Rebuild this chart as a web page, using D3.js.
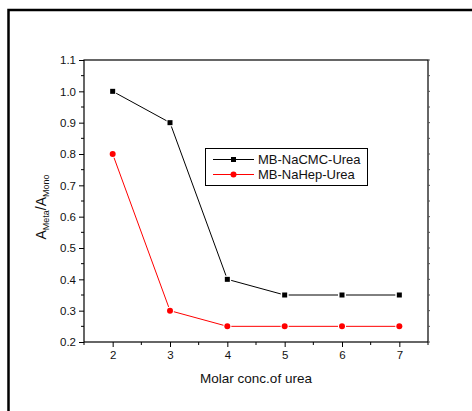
<!DOCTYPE html>
<meta charset='utf-8'>
<style>
	body { margin: 0; background: #fff; }
	text { font-family: 'Liberation Sans', Arial, sans-serif; fill: #111; }
	.axis path, .axis line { stroke: #000; }
</style>
<body>
<script src='https://cdn.jsdelivr.net/npm/d3@7'></script>
<script>
	var urea = [2, 3, 4, 5, 6, 7];
	var naCMC = [1.0, 0.9, 0.4, 0.35, 0.35, 0.35];
	var naHep = [0.8, 0.3, 0.25, 0.25, 0.25, 0.25];
	var seriesNames = ['MB-NaCMC-Urea', 'MB-NaHep-Urea'];
	var yTicks = [0.2, 0.3, 0.4, 0.5, 0.6, 0.7, 0.8, 0.9, 1.0, 1.1];

	var W = 472, H = 411;
	var m = {l: 84, r: 428, t: 60, b: 342};

	var svg = d3.select('body').append('svg').attr('width', W).attr('height', H);

	// outer frame
	svg.append('rect').attr('x', 8.5).attr('y', 10).attr('width', 480).attr('height', 420)
		.attr('fill', 'none').attr('stroke', '#000').attr('stroke-width', 2.5);

	var x = d3.scaleLinear().domain([1.5, 7.5]).range([m.l, m.r]);
	var y = d3.scaleLinear().domain([0.2, 1.1]).range([m.b, m.t]);

	var minorY = d3.range(0.25, 1.1, 0.1);
	var minorX = d3.range(1.5, 7.6, 1);

	// frame of plot
	svg.append('rect').attr('x', m.l).attr('y', m.t).attr('width', m.r - m.l).attr('height', m.b - m.t)
		.attr('fill', 'none').attr('stroke', '#000').attr('stroke-width', 1.2);

	// left axis
	var gy = svg.append('g').attr('class', 'axis').attr('transform', 'translate(' + m.l + ',0)')
		.call(d3.axisLeft(y).tickValues(yTicks).tickFormat(d3.format('.1f')).tickSize(5).tickPadding(3));
	gy.select('.domain').remove();
	gy.selectAll('text').attr('font-size', 11.5);
	svg.append('g').selectAll('line').data(minorY).enter().append('line')
		.attr('x1', m.l - 3).attr('x2', m.l).attr('y1', function (d) { return y(d); }).attr('y2', function (d) { return y(d); })
		.attr('stroke', '#000');

	// bottom axis
	var gx = svg.append('g').attr('class', 'axis').attr('transform', 'translate(0,' + m.b + ')')
		.call(d3.axisBottom(x).tickValues(urea).tickFormat(d3.format('d')).tickSize(5).tickPadding(4));
	gx.select('.domain').remove();
	gx.selectAll('text').attr('font-size', 11.5);
	svg.append('g').selectAll('line').data(minorX).enter().append('line')
		.attr('y1', m.b).attr('y2', m.b + 3).attr('x1', function (d) { return x(d); }).attr('x2', function (d) { return x(d); })
		.attr('stroke', '#000');

	// right axis small ticks
	svg.append('g').selectAll('line').data(yTicks.concat(minorY)).enter().append('line')
		.attr('x1', m.r).attr('x2', m.r + 2).attr('y1', function (d) { return y(d); }).attr('y2', function (d) { return y(d); })
		.attr('stroke', '#555');

	// labels
	svg.append('text').attr('x', 256).attr('y', 383).attr('text-anchor', 'middle').attr('font-size', 13.5)
		.text('Molar conc.of urea');
	var yl = svg.append('text').attr('transform', 'translate(46,207) rotate(-90)').attr('text-anchor', 'middle').attr('font-size', 14);
	yl.append('tspan').text('A');
	yl.append('tspan').attr('font-size', 9).attr('dy', 3).text('Meta');
	yl.append('tspan').attr('dy', -3).text('/A');
	yl.append('tspan').attr('font-size', 9).attr('dy', 3).text('Mono');

	// series lines with gaps near markers
	function drawSeries(vals, color, shape) {
		var pts = urea.map(function (u, i) { return [x(u), y(vals[i])]; });
		var gap = 4;
		for (var i = 0; i < pts.length - 1; i++) {
			var p = pts[i], q = pts[i + 1];
			var dx = q[0] - p[0], dy = q[1] - p[1], L = Math.sqrt(dx * dx + dy * dy);
			svg.append('line')
				.attr('x1', p[0] + dx / L * gap).attr('y1', p[1] + dy / L * gap)
				.attr('x2', q[0] - dx / L * gap).attr('y2', q[1] - dy / L * gap)
				.attr('stroke', color).attr('stroke-width', 1);
		}
		pts.forEach(function (p) { marker(p[0], p[1], color, shape); });
	}

	function marker(cx, cy, color, shape) {
		if (shape === 'square') {
			svg.append('rect').attr('x', cx - 2.5).attr('y', cy - 2.5).attr('width', 5).attr('height', 5).attr('fill', color);
		} else {
			svg.append('circle').attr('cx', cx).attr('cy', cy).attr('r', 3).attr('fill', color);
		}
	}

	drawSeries(naCMC, '#000', 'square');
	drawSeries(naHep, '#ff0000', 'circle');

	// legend
	svg.append('rect').attr('x', 205.5).attr('y', 148.5).attr('width', 162).attr('height', 37)
		.attr('fill', '#fff').attr('stroke', '#000').attr('stroke-width', 1);
	var legend = [{name: seriesNames[0], color: '#000', shape: 'square', y: 159.5},
		{name: seriesNames[1], color: '#ff0000', shape: 'circle', y: 174.5}];
	legend.forEach(function (d) {
		svg.append('line').attr('x1', 213).attr('x2', 254).attr('y1', d.y).attr('y2', d.y).attr('stroke', d.color);
		marker(233.5, d.y, d.color, d.shape);
		svg.append('text').attr('x', 258).attr('y', d.y + 4.5).attr('font-size', 13).text(d.name);
	});
</script>
